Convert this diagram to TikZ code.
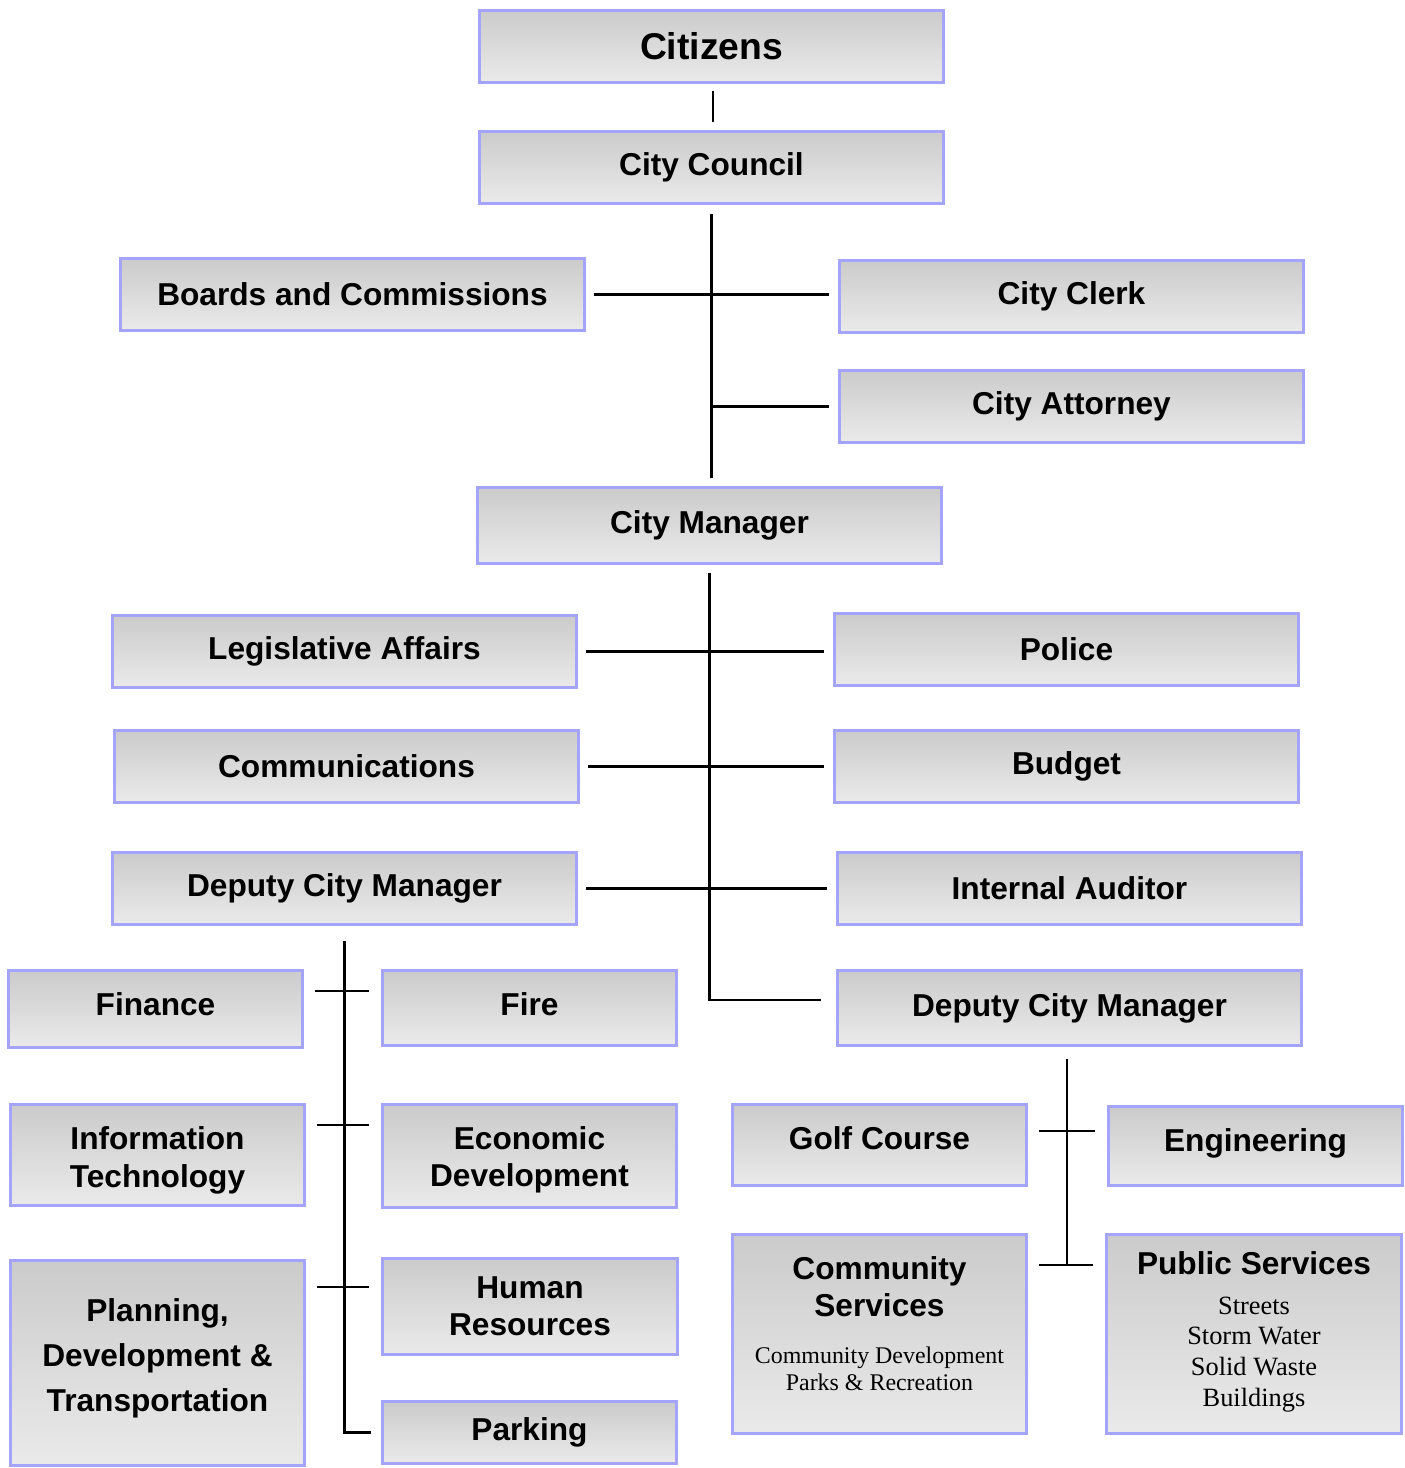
\documentclass[tikz,border=0pt]{standalone}
\usepackage{fontspec}
\setmainfont{Liberation Sans}
\newfontfamily\subfont{Liberation Serif}
\usepackage{tikz}

\definecolor{boxline}{HTML}{A4A4FA}
\definecolor{boxtop}{HTML}{CBCBCB}
\definecolor{boxbot}{HTML}{EAEAEA}

% small serif lines under a heading
\newcommand\subtext[3]{{\subfont\mdseries\fontsize{#1}{#2}\selectfont\begin{tabular}{@{}c@{}}#3\end{tabular}}}

\begin{document}
\begin{tikzpicture}
	[
	x=0.01cm, y=-0.01cm,
	align=center,
	box/.style={draw=boxline, line width=0.85pt, top color=boxtop, bottom color=boxbot,
		inner sep=0pt, font=\bfseries\fontsize{9}{10.6}\selectfont},
	wide/.style={box, minimum width=4.64cm, minimum height=0.72cm},
	slim/.style={box, minimum width=2.94cm},
	link/.style={line width=0.6pt},
	]
	\useasboundingbox (0,0) rectangle (1405,1468);

		% council
		\node[wide, font=\bfseries\fontsize{10.6}{12}\selectfont] (cit) at 	( 711.5,   46.5 ) {Citizens};
		\node[wide] (cc) at 		( 711.5,  167.5 ) {City Council};
		\node[wide] (bc) at 		( 352.5,  294.5 ) {Boards and Commissions};
		\node[wide] (clerk) at 		(1071.5,  296.5 ) {City Clerk};
		\node[wide] (atty) at 		(1071.5,  406.5 ) {City Attorney};
		
		% manager
		\node[wide, minimum height=0.76cm] (mgr) at 	( 709.5,  525.5 ) {City Manager};
		\node[wide] (la) at 		( 344.5,  651.5 ) {Legislative Affairs};
		\node[wide] (pol) at 		(1066.5,  649.5 ) {Police};
		\node[wide] (com) at 		( 346.5,  766.5 ) {Communications};
		\node[wide] (bud) at 		(1066.5,  766.5 ) {Budget};
		\node[wide] (dcm1) at 		( 344.5,  888.5 ) {Deputy City Manager};
		\node[wide] (aud) at 		(1069.5,  888.5 ) {Internal Auditor};
		\node[wide, minimum height=0.75cm] (dcm2) at 	(1069.5, 1008.0 ) {Deputy City Manager};
		
		% left deputy
		\node[slim, minimum height=0.77cm, text depth=2.8pt] (fin) at 	( 155.5, 1009.0 ) {Finance};
		\node[slim, minimum height=0.75cm, text depth=2.3pt] (fire) at 	( 529.5, 1008.0 ) {Fire};
		\node[slim, minimum height=1.01cm, text height=20.1pt] (it) at 	( 157.5, 1155.0 ) {Information\\Technology};
		\node[slim, minimum height=1.03cm, text height=19.1pt] (ed) at 	( 529.5, 1156.0 ) {Economic\\Development};
		\node[slim, minimum height=2.05cm, text depth=4.8pt,
			font=\bfseries\fontsize{9}{12.8}\selectfont] (pdt) at 	( 157.5, 1363.0 ) {Planning,\\Development \&\\Transportation};
		\node[slim, minimum height=0.96cm] (hr) at 		( 530.0, 1306.5 ) {Human\\Resources};
		\node[slim, minimum height=0.62cm] (park) at 	( 529.5, 1432.5 ) {Parking};
		
		% right deputy
		\node[slim, minimum height=0.81cm, text depth=4pt] (golf) at 	( 879.5, 1145.0 ) {Golf Course};
		\node[slim, minimum height=0.79cm, text depth=3.6pt] (eng) at 	(1255.5, 1146.0 ) {Engineering};
		\node[slim, minimum height=1.99cm, text depth=9.7pt] (cs) at 	( 879.5, 1334.0 )
			{Community\\Services\\[6.9pt]\subtext{6.8}{7.7}{Community Development\\Parks \& Recreation}};
		\node[slim, minimum height=1.99cm] (ps) at 		(1254.0, 1334.0 )
			{Public Services\\[3.9pt]\subtext{7.5}{8.8}{Streets\\Storm Water\\Solid Waste\\Buildings}};
		
		% join points
		\coordinate (finj) at ([yshift=-0.22cm]fin.north east);
		\coordinate (itj) at ([yshift=-0.22cm]it.north east);
		\coordinate (pdtj) at ([yshift=-0.28cm]pdt.north east);
		\coordinate (golfj) at ([yshift=-0.28cm]golf.north east);
		\coordinate (csj) at ([yshift=-0.32cm]cs.north east);
		\coordinate (dcmj) at ([yshift=0.08cm]dcm2.west);
		
		% trunk lines
		\draw[link, shorten <=0.07cm, shorten >=0.08cm] ([xshift=0.015cm]cit.south) -- ([xshift=0.015cm]cc.north);
		\draw[link, shorten <=0.09cm, shorten >=0.08cm] (cc.south) -- (cc.south |- mgr.north);
		\draw[link, shorten <=0.08cm, shorten >=0.15cm] (mgr.south) |- (dcmj);
		\draw[link, shorten <=0.15cm, shorten >=0.1cm] (dcm1.south) |- (park.west);
		\draw[link, shorten <=0.12cm] ([xshift=-0.025cm]dcm2.south) -- ([xshift=-0.025cm]dcm2.south |- csj);
		\draw[link, shorten >=0.09cm] (cc.south |- atty.west) -- (atty.west);
		
		% side branches
		\foreach \from/\to in {bc/clerk,la/pol,com/bud,dcm1/aud}
			\draw[link, shorten <=0.08cm, shorten >=0.09cm] (\from.east) -- (\from.east -| \to.west);
		\foreach \from/\to in {finj/fire,itj/ed,pdtj/hr,golfj/eng,csj/ps}
			\draw[link, shorten <=0.11cm, shorten >=0.12cm] (\from) -- (\from -| \to.west);
		
	\end{tikzpicture}
\end{document}
